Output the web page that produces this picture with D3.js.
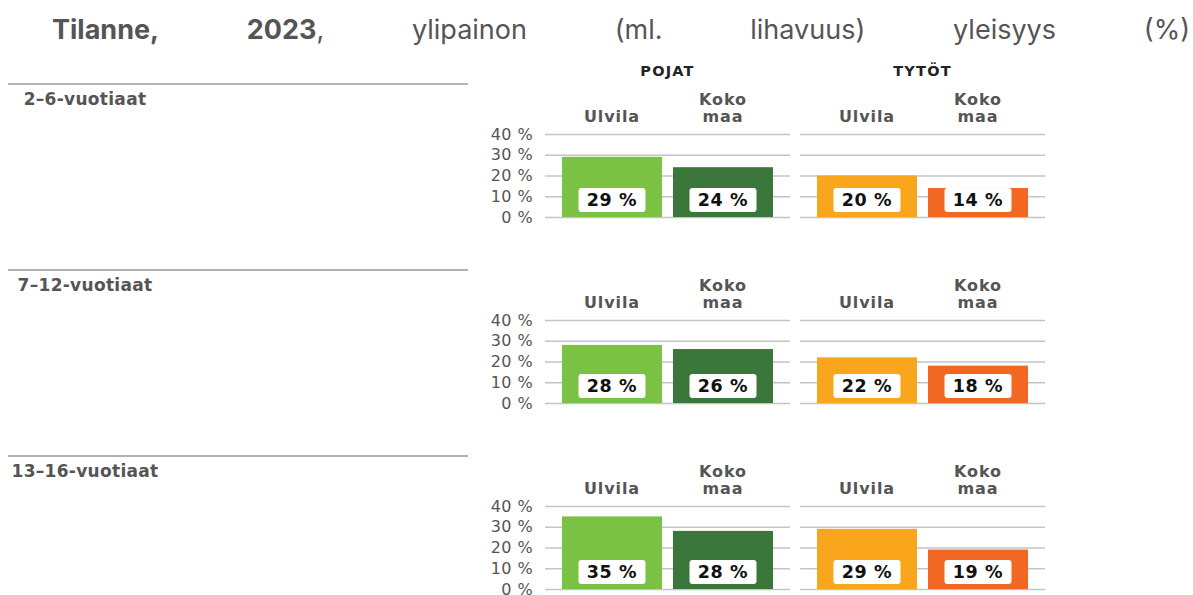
<html>
<meta charset="utf-8" />
<head>
<title>Ylipaino Ulvila</title>
<style>
body { margin: 0; background: #fff; }

svg text { font-family: "DejaVu Sans", Verdana, sans-serif; }
.title text { font-family: Inter, "Open Sans", sans-serif; font-size: 27px; fill: #555; }
.title .bold { font-weight: 700; }
.age { font-size: 17px; font-weight: bold; fill: #555; text-anchor: middle; letter-spacing: 0.3px; }
.group { font-size: 14.5px; font-weight: bold; fill: #222; text-anchor: middle; letter-spacing: 1.2px; }
.cat { font-size: 16px; font-weight: bold; fill: #555; text-anchor: middle; letter-spacing: 0.9px; }
.val { font-size: 17.5px; font-weight: bold; fill: #111; text-anchor: middle; letter-spacing: 0.6px; }
</style>
<script src="https://d3js.org/d3.v7.min.js" charset="utf-8"></script>
</head>

<body>
<svg class="chart" width="1193" height="595"></svg>

<script>
/********
 * Data *
 ********/
var titleWords = ["Tilanne,", "2023,", "ylipainon", "(ml.", "lihavuus)", "yleisyys", "(%)"];
var titleBold = ["Tilanne,", "2023"];
var ageGroups = ["2\u20136-vuotiaat", "7\u201312-vuotiaat", "13\u201316-vuotiaat"];
var groups = ["POJAT", "TYTÖT"];
var areas = ["Ulvila", "Koko maa"];
var boysUlvila = [29, 28, 35];
var boysKoko = [24, 26, 28];
var girlsUlvila = [20, 22, 29];
var girlsKoko = [14, 18, 19];
var yTicks = [0, 10, 20, 30, 40];

var colors = {
  "POJAT": ["#7bc143", "#3b763a"],
  "TYTÖT": ["#f9a61c", "#f26722"]
};

var svg = d3.select(".chart");

/*********
 * Title *
 *********/
// words spread between two edges, like justified text
var titleLeft = 52, titleRight = 1190, titleY = 39;
var tg = svg.append("g").attr("class", "title");
var words = tg.selectAll("text")
    .data(titleWords)
  .enter().append("text")
    .attr("y", titleY);
words.each(function(w) {
  var t = d3.select(this);
  if (w === "2023,") {
    t.append("tspan").attr("class", "bold").text("2023");
    t.append("tspan").text(",");
  } else {
    t.append("tspan").attr("class", titleBold.indexOf(w) >= 0 ? "bold" : null).text(w);
  }
});
var widths = [];
words.each(function() { widths.push(this.getComputedTextLength()); });
var gap = (titleRight - titleLeft - d3.sum(widths)) / (titleWords.length - 1);
var cx = titleLeft;
words.attr("x", function(d, i) { var p = cx; cx += widths[i] + gap; return p; });

/**********
 * Panels *
 **********/
var panelTop = 84, panelStep = 186;
var chartX = { "POJAT": 545, "TYTÖT": 800 };
var chartW = 245;

var x = d3.scaleBand()
    .domain(areas)
    .range([0, chartW])
    .paddingInner(11 / 111)
    .paddingOuter(17 / 111);

var y = d3.scaleLinear()
    .domain([0, 40])
    .range([133, 50]);

ageGroups.forEach(function(age, i) {
  var panel = svg.append("g")
      .attr("transform", "translate(0," + (panelTop + i * panelStep) + ")");

  panel.append("line")
      .attr("x1", 8).attr("x2", 468)
      .attr("y1", 0).attr("y2", 0)
      .attr("stroke", "#999").attr("stroke-width", 1.5);

  panel.append("text")
      .attr("class", "age")
      .attr("x", 85).attr("y", 21)
      .text(age);

  var vals = {
    "POJAT": [boysUlvila[i], boysKoko[i]],
    "TYTÖT": [girlsUlvila[i], girlsKoko[i]]
  };

  groups.forEach(function(g, gi) {
    var chart = panel.append("g")
        .attr("transform", "translate(" + chartX[g] + ",0)");

    // gridlines
    chart.append("g")
        .attr("class", "grid")
        .call(d3.axisLeft(y).tickValues(yTicks).tickSize(-chartW).tickFormat(""))
        .call(function(a) {
          a.select(".domain").remove();
          a.selectAll("line").attr("stroke", "#c4c4c4").attr("stroke-width", 1.5);
        });

    if (gi === 0) {
      chart.append("g")
          .attr("class", "tick-labels")
          .call(d3.axisLeft(y).tickValues(yTicks).tickSize(0).tickPadding(12)
              .tickFormat(function(d) { return d + " %"; }))
          .call(function(a) {
            a.select(".domain").remove();
            a.selectAll("text").attr("font-family", "DejaVu Sans, sans-serif")
                .attr("font-size", 16).attr("letter-spacing", "0.4px").attr("fill", "#555");
          });
    }

    if (i === 0) {
      chart.append("text")
          .attr("class", "group")
          .attr("x", chartW / 2).attr("y", -8)
          .text(g);
    }

    // category headers
    chart.append("text").attr("class", "cat")
        .attr("x", x("Ulvila") + x.bandwidth() / 2).attr("y", 38)
        .text("Ulvila");
    var koko = chart.append("text").attr("class", "cat")
        .attr("x", x("Koko maa") + x.bandwidth() / 2).attr("y", 21);
    koko.append("tspan").text("Koko");
    koko.append("tspan")
        .attr("x", x("Koko maa") + x.bandwidth() / 2).attr("dy", 17)
        .text("maa");

    var data = areas.map(function(a, k) { return { area: a, value: vals[g][k], color: colors[g][k] }; });

    chart.selectAll(".bar")
        .data(data)
      .enter().append("rect")
        .attr("class", "bar")
        .attr("x", function(d) { return x(d.area); })
        .attr("width", x.bandwidth())
        .attr("y", function(d) { return y(d.value); })
        .attr("height", function(d) { return y(0) - y(d.value); })
        .attr("fill", function(d) { return d.color; });

    var lab = chart.selectAll(".lab")
        .data(data)
      .enter().append("g")
        .attr("class", "lab")
        .attr("transform", function(d) {
          return "translate(" + (x(d.area) + x.bandwidth() / 2) + "," + (y(0) - 17) + ")";
        });

    lab.append("rect")
        .attr("x", -33.5).attr("y", -12)
        .attr("width", 67).attr("height", 24)
        .attr("rx", 3)
        .attr("fill", "#fff");

    lab.append("text")
        .attr("class", "val")
        .attr("dy", "0.36em")
        .text(function(d) { return d.value + " %"; });
  });
});
</script>
</body>
</html>
